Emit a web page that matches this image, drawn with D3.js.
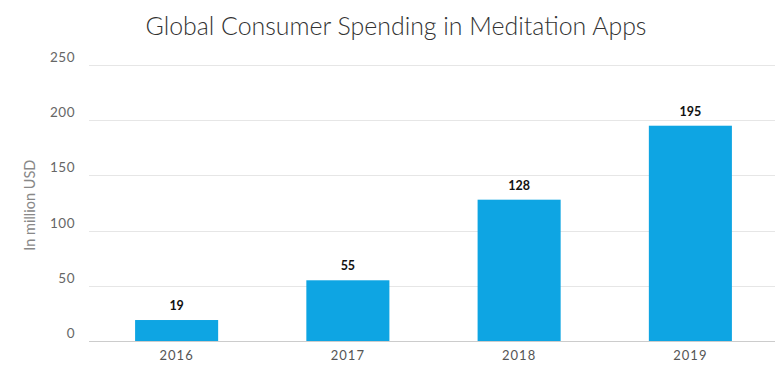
<!DOCTYPE html>
<html><head><meta charset="utf-8">
<script src="https://cdn.jsdelivr.net/npm/d3@7"></script>
<style>body{margin:0;background:#fff;}svg{display:block;}</style>
</head><body>
<svg id="c" width="775" height="369"></svg>
<script>
const categories = ["2016","2017","2018","2019"];
const values = [19,55,128,195];
const yTicks = [0,50,100,150,200,250];
const title = "Global Consumer Spending in Meditation Apps";
const yLabel = "In million USD";

const svg = d3.select("#c");
const W = 775, H = 369;
const m = {left:90, right:0, top:65, bottom:28};
const x = d3.scaleBand().domain(categories).range([m.left+1, W+1]).paddingInner(0.515).paddingOuter(0.2575);
const y = d3.scaleLinear().domain([0,250]).range([H-m.bottom, m.top]);

svg.append("text").attr("x",396).attr("y",35).attr("text-anchor","middle")
  .attr("font-family","Lato").attr("font-weight",300).attr("font-size",24.9).attr("fill","#333").text(title);

const grid = svg.append("g");
grid.selectAll("line").data(yTicks).join("line")
  .attr("x1",89).attr("x2",W).attr("y1",d=>Math.round(y(d))+0.5).attr("y2",d=>Math.round(y(d))+0.5)
  .attr("stroke",d=>d===0?"#ccc":"#e6e6e6").attr("stroke-width",1);
grid.selectAll("text").data(yTicks).join("text")
  .attr("x",75).attr("y",d=>y(d)-3).attr("text-anchor","end")
  .attr("font-family","Lato").attr("font-size",13.5).attr("fill","#666").attr("letter-spacing",0.5).text(d=>d);

svg.append("text").attr("transform",`translate(35,${y(123)}) rotate(-90)`).attr("text-anchor","middle")
  .attr("font-family","Lato").attr("font-size",14.5).attr("fill","#888").text(yLabel);

svg.append("g").selectAll("rect").data(values).join("rect")
  .attr("x",(d,i)=>x(categories[i])).attr("width",x.bandwidth())
  .attr("y",d=>y(d)).attr("height",d=>y(0)-y(d)).attr("fill","#0ea5e3");

svg.append("g").selectAll("text").data(values).join("text")
  .attr("x",(d,i)=>x(categories[i])+x.bandwidth()/2).attr("y",d=>y(d)-10)
  .attr("text-anchor","middle").attr("font-family","Lato").attr("font-weight",700).attr("font-size",12.5).attr("fill","#111").text(d=>d);

svg.append("g").selectAll("text").data(categories).join("text")
  .attr("x",d=>x(d)+x.bandwidth()/2).attr("y",H-9)
  .attr("text-anchor","middle").attr("font-family","Lato").attr("font-size",13).attr("fill","#555").attr("letter-spacing",1).text(d=>d);
</script>
</body></html>
